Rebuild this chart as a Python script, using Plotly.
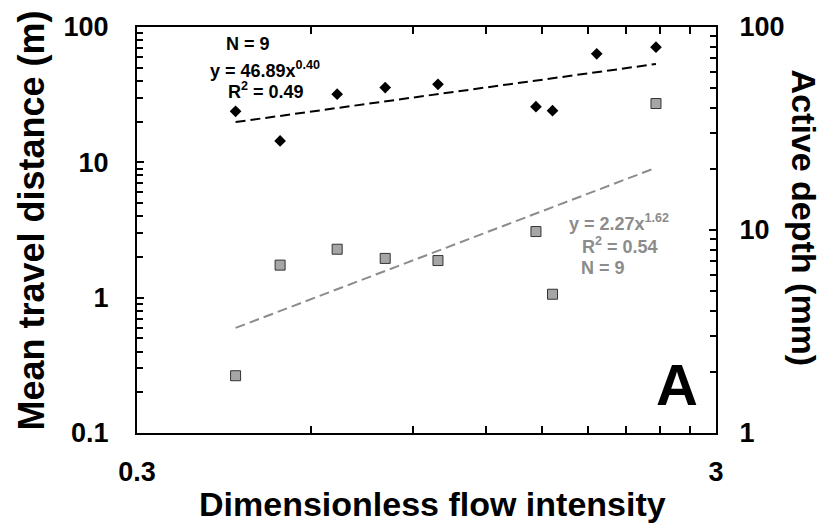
import numpy as np
import plotly.graph_objects as go

# ---- data ----
flow_intensity = [0.444, 0.530, 0.665, 0.805, 0.993, 1.466, 1.566, 1.867, 2.363]
travel_distance = [23.8, 14.4, 31.9, 35.7, 37.7, 25.8, 24.1, 63.4, 71.0]

depth_flow_intensity = [0.444, 0.530, 0.665, 0.805, 0.993, 1.466, 1.566, 2.363]
active_depth = [0.265, 1.74, 2.28, 1.95, 1.88, 3.08, 1.06, 27.2]

x_tickvals = [0.3, 3]
x_ticktext = ["0.3", "3"]
x_minor = [0.6, 0.9, 1.2, 1.5, 1.8, 2.1, 2.4, 2.7]
y_tickvals = [0.1, 1, 10, 100]
y_ticktext = ["0.1", "1", "10", "100"]
y2_tickvals = [1, 10, 100]
y2_ticktext = ["1", "10", "100"]
mult = [2, 3, 4, 5, 6, 7, 8, 9]
y_minor = [m * d for d in [0.1, 1, 10] for m in mult]
y2_minor = [m * d for d in [1, 10] for m in mult]


def power_fit(x, y):
    b, loga = np.polyfit(np.log10(x), np.log10(y), 1)
    xs = np.array([min(x), max(x)])
    return xs, (10 ** loga) * xs ** b


FONT = "Liberation Sans, Arial, sans-serif"

fig = go.Figure()

fx, fy = power_fit(flow_intensity, travel_distance)
fig.add_trace(go.Scatter(x=fx, y=fy, mode="lines",
                         line=dict(color="black", width=2, dash="10px,5px"),
                         showlegend=False, hoverinfo="skip"))
gx, gy = power_fit(depth_flow_intensity, active_depth)
fig.add_trace(go.Scatter(x=gx, y=gy, mode="lines",
                         line=dict(color="#8c8c8c", width=2, dash="10px,5px"),
                         showlegend=False, hoverinfo="skip"))
fig.add_trace(go.Scatter(x=flow_intensity, y=travel_distance, mode="markers",
                         marker=dict(symbol="diamond", size=9, color="black"),
                         showlegend=False))
fig.add_trace(go.Scatter(x=depth_flow_intensity, y=active_depth, mode="markers",
                         marker=dict(symbol="square", size=10, color="#a6a6a6",
                                     line=dict(color="#333333", width=1)),
                         showlegend=False))
# trace that anchors the secondary (right) axis
fig.add_trace(go.Scatter(x=[None], y=[None], yaxis="y2", mode="markers",
                         showlegend=False, hoverinfo="skip"))

L, R, T, B = 137, 118, 24, 95
W, H = 834, 528
PW, PH = W - L - R, H - T - B


def px(xp):
    return (xp - L) / PW


def py(yp):
    return (H - B - yp) / PH


def ann(text, xc, yc, size, color="black", angle=0):
    fig.add_annotation(text=text, x=px(xc), y=py(yc), xref="paper", yref="paper",
                       xanchor="center", yanchor="middle", showarrow=False,
                       textangle=angle,
                       font=dict(family=FONT, size=size, color=color, weight="bold"))


ann("N = 9", 248, 41, 18)
ann("y = 46.89x<sup>0.40</sup>", 265, 67, 18)
ann("R<sup>2</sup> = 0.49", 265.5, 88, 18)
ann("y = 2.27x<sup>1.62</sup>", 619, 220.5, 18, "#8c8c8c")
ann("R<sup>2</sup> = 0.54", 619.5, 244.5, 18, "#8c8c8c")
ann("N = 9", 602.7, 266.5, 18, "#8c8c8c")
ann("A", 677, 384, 58)

ann("Dimensionless flow intensity", 432, 505, 34)
ann("Mean travel distance (m)", 32, 219, 36, angle=-90)
ann("Active depth (mm)", 804, 216, 34, angle=90)

tickfont = dict(family=FONT, size=27, color="black", weight="bold")

fig.update_layout(
    width=W, height=H,
    margin=dict(l=L, r=R, t=T, b=B, pad=0),
    paper_bgcolor="white", plot_bgcolor="white",
    font=dict(family=FONT, color="black"),
    xaxis=dict(type="log", range=[np.log10(0.3), np.log10(3)],
               tickmode="array", tickvals=x_tickvals, ticktext=x_ticktext,
               ticks="inside", ticklen=7, tickwidth=1.5, tickcolor="black",
               minor=dict(tickvals=x_minor, ticks="inside", ticklen=7,
                          tickwidth=1.5, tickcolor="black", showgrid=False),
               showline=True, linecolor="black", linewidth=2, mirror="ticks",
               showgrid=False, zeroline=False, tickfont=tickfont,
               ticklabelstandoff=14),
    yaxis=dict(type="log", range=[-1, 2],
               tickmode="array", tickvals=y_tickvals, ticktext=y_ticktext,
               ticks="inside", ticklen=7, tickwidth=1.5, tickcolor="black",
               minor=dict(tickvals=y_minor, ticks="inside", ticklen=6,
                          tickwidth=1.5, tickcolor="black", showgrid=False),
               showline=True, linecolor="black", linewidth=2, mirror=False,
               showgrid=False, zeroline=False, tickfont=tickfont,
               ticklabelstandoff=21),
    yaxis2=dict(type="log", range=[0, 2], overlaying="y", side="right", anchor="x",
                tickmode="array", tickvals=y2_tickvals, ticktext=y2_ticktext,
                ticks="inside", ticklen=7, tickwidth=1.5, tickcolor="black",
                minor=dict(tickvals=y2_minor, ticks="inside", ticklen=6,
                           tickwidth=1.5, tickcolor="black", showgrid=False),
                showline=True, linecolor="black", linewidth=2,
                showgrid=False, zeroline=False, tickfont=tickfont,
                ticklabelstandoff=16),
)

fig.write_html("out.html")
